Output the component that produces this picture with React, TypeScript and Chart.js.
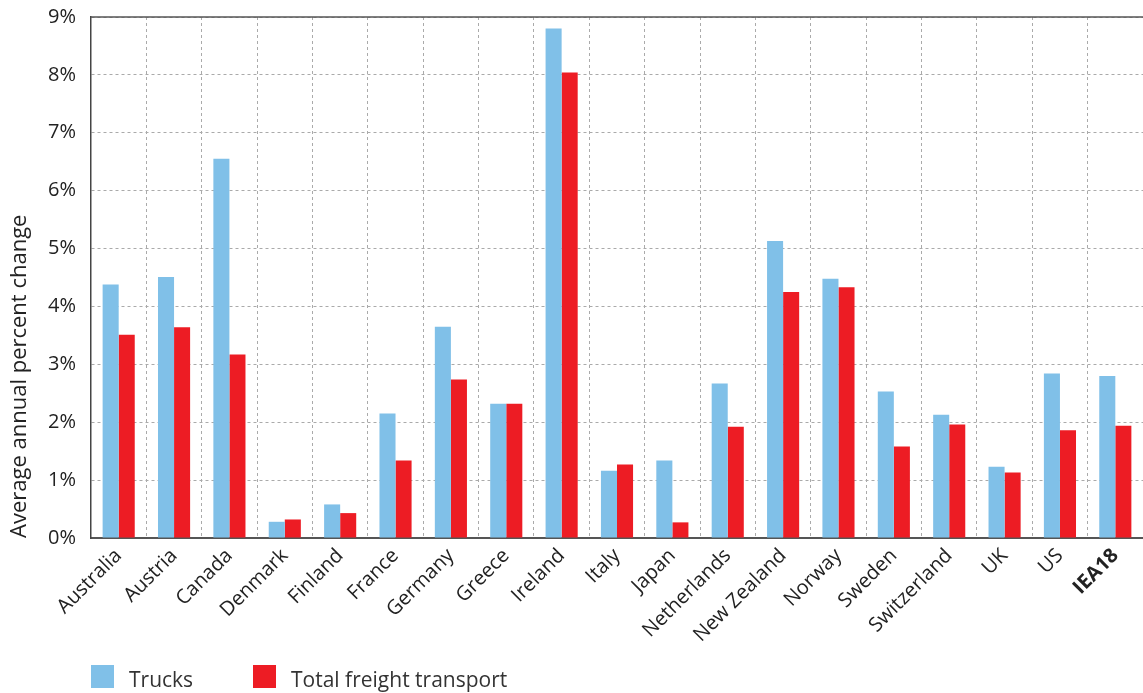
import React, { useEffect, useRef } from "react";
import { Chart, registerables } from "chart.js";

Chart.register(...registerables);

const categories = [
  "Australia", "Austria", "Canada", "Denmark", "Finland", "France", "Germany",
  "Greece", "Ireland", "Italy", "Japan", "Netherlands", "New Zealand", "Norway",
  "Sweden", "Switzerland", "UK", "US", "IEA18",
];
const trucks = [
  4.38, 4.51, 6.55, 0.28, 0.58, 2.15, 3.65, 2.32, 8.8, 1.16, 1.34, 2.67, 5.13,
  4.48, 2.53, 2.13, 1.23, 2.84, 2.8,
];
const totalFreight = [
  3.51, 3.64, 3.17, 0.32, 0.43, 1.34, 2.74, 2.32, 8.04, 1.27, 0.27, 1.92, 4.25,
  4.33, 1.58, 1.96, 1.13, 1.86, 1.94,
];
const seriesNames = ["Trucks", "Total freight transport"];
const yTickValues = [0, 1, 2, 3, 4, 5, 6, 7, 8, 9];

const FONT = "'Open Sans', Lato, sans-serif";
const BLUE = "#80C0E8";
const RED = "#ED1C24";

const framePlugin = {
  id: "frameAndLegend",
  afterDraw(chart: any) {
    const { ctx, chartArea } = chart;
    ctx.save();
    ctx.strokeStyle = "#555";
    ctx.lineWidth = 1.5;
    ctx.beginPath();
    ctx.moveTo(chartArea.left, chartArea.top);
    ctx.lineTo(chartArea.right, chartArea.top);
    ctx.stroke();

    // legend
    const items = chart.data.datasets.map((d: any) => ({ label: d.label, color: d.backgroundColor }));
    const xs = [chartArea.left, chartArea.left + 162];
    const boxTop = chartArea.bottom + 127;
    ctx.font = `21px ${FONT}`;
    ctx.textBaseline = "alphabetic";
    ctx.textAlign = "left";
    items.forEach((it: any, i: number) => {
      ctx.fillStyle = it.color;
      ctx.fillRect(xs[i], boxTop, 23, 23);
      ctx.fillStyle = "#333";
      ctx.fillText(it.label, xs[i] + 38, boxTop + 22);
    });
    ctx.restore();
  },
};

export default function App() {
  const ref = useRef<HTMLCanvasElement | null>(null);
  useEffect(() => {
    document.body.style.margin = "0";
    const chart = new Chart(ref.current as HTMLCanvasElement, {
      type: "bar",
      data: {
        labels: categories,
        datasets: [
          { label: seriesNames[0], data: trucks, backgroundColor: BLUE, categoryPercentage: 0.58, barPercentage: 1 },
          { label: seriesNames[1], data: totalFreight, backgroundColor: RED, categoryPercentage: 0.58, barPercentage: 1 },
        ],
      },
      options: {
        animation: false,
        responsive: true,
        maintainAspectRatio: false,
        layout: { padding: { top: 17, right: 0, bottom: 0, left: 0 } },
        plugins: { legend: { display: false }, tooltip: { enabled: false } },
        scales: {
          x: {
            grid: { color: "#aaa", lineWidth: 1, drawTicks: false, offset: true },
            border: { color: "#555", width: 2, dash: [3, 3] },
            ticks: {
              autoSkip: false,
              maxRotation: 45,
              minRotation: 45,
              padding: 6,
              color: "#222",
              font: (c: any) => ({
                family: FONT,
                size: 20,
                weight: c.index === categories.length - 1 ? "bold" : "normal",
              }),
            },
            afterFit: (s: any) => {
              s.height = 155;
              s.paddingLeft = 0;
              s.paddingRight = 0;
            },
          },
          y: {
            min: 0,
            max: 9,
            afterBuildTicks: (s: any) => {
              s.ticks = yTickValues.map((v) => ({ value: v }));
            },
            grid: { color: "#aaa", lineWidth: 1, drawTicks: false },
            border: { color: "#444", width: 1.5, dash: [3, 3] },
            ticks: {
              padding: 15,
              color: "#222",
              font: { family: FONT, size: 20 },
              callback: (v: any) => `${v}%`,
            },
            title: {
              display: true,
              text: "Average annual percent change",
              align: "start",
              color: "#222",
              font: { family: FONT, size: 22 },
              padding: { top: 7, bottom: 0 },
            },
            afterFit: (s: any) => {
              s.width = 91;
              s.paddingTop = 0;
              s.paddingBottom = 0;
            },
          },
        },
      },
      plugins: [framePlugin],
    });
    return () => chart.destroy();
  }, []);
  return (
    <div style={{ position: "absolute", left: 0, top: 0, width: 1143, height: 693 }}>
      <canvas ref={ref} />
    </div>
  );
}
